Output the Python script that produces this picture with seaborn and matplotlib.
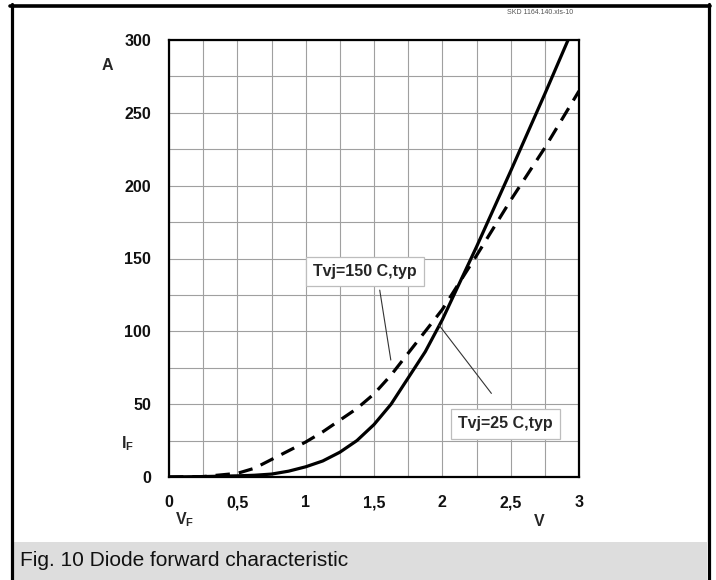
import matplotlib
matplotlib.use("Agg")
import matplotlib.pyplot as plt
import seaborn as sns
import pandas as pd
from matplotlib.lines import Line2D
from matplotlib.patches import Rectangle

# values
volts_25 = [0, 0.25, 0.5, 0.625, 0.75, 0.875, 1.0, 1.125, 1.25, 1.375, 1.5, 1.625,
            1.75, 1.875, 2.0, 2.25, 2.5, 2.75, 2.92]
amps_25 = [0, 0.3, 0.8, 1.2, 2, 4, 7, 11, 17, 25, 36, 50,
           68, 86, 108, 158, 210, 263, 300]
volts_150 = [0, 0.25, 0.5, 0.625, 0.75, 0.875, 1.0, 1.125, 1.25, 1.375, 1.5, 1.625,
             1.75, 1.875, 2.0, 2.25, 2.5, 2.75, 3.0]
amps_150 = [0, 0.3, 2.5, 6, 12, 18, 24, 31, 39, 47, 57, 70,
            85, 100, 115, 152, 190, 226, 265]

x_ticks = [0, 0.5, 1, 1.5, 2, 2.5, 3]
x_tick_labels = ["0", "0,5", "1", "1,5", "2", "2,5", "3"]
y_ticks = [0, 50, 100, 150, 200, 250, 300]

df25 = pd.DataFrame({"V": volts_25, "I": amps_25})
df150 = pd.DataFrame({"V": volts_150, "I": amps_150})

sns.set_style("white")
plt.rcParams["font.family"] = ["Liberation Sans", "DejaVu Sans"]
plt.rcParams["mathtext.fontset"] = "custom"
plt.rcParams["mathtext.rm"] = "Liberation Sans"
plt.rcParams["mathtext.bf"] = "Liberation Sans:bold"

W, H = 716, 580
fig = plt.figure(figsize=(W / 100, H / 100), dpi=100)
ax = fig.add_axes([169 / W, 1 - 477 / H, 410 / W, 437 / H])

sns.lineplot(data=df25, x="V", y="I", ax=ax, color="black", lw=2.3, sort=False)
sns.lineplot(data=df150, x="V", y="I", ax=ax, color="black", lw=2.3, sort=False,
             linestyle=(0, (4.5, 2.8)))

ax.set_xlim(0, 3)
ax.set_ylim(0, 300)
ax.set_xticks(x_ticks)
ax.set_xticklabels(x_tick_labels)
ax.set_yticks(y_ticks)
ax.set_xticks([i * 0.25 for i in range(13)], minor=True)
ax.set_yticks([i * 25 for i in range(13)], minor=True)
ax.grid(which="both", color="#a0a0a0", lw=0.8)
ax.set_axisbelow(True)
ax.tick_params(which="both", length=0)
ax.tick_params(axis="x", pad=13)
ax.tick_params(axis="y", pad=13)
for lab in ax.get_xticklabels() + ax.get_yticklabels():
    lab.set_fontweight("bold")
    lab.set_fontsize(11.5)
    lab.set_color("#111111")
for s in ax.spines.values():
    s.set_linewidth(1.6)
    s.set_color("black")
ax.set_xlabel("")
ax.set_ylabel("")

# curve labels with leader lines
box = dict(boxstyle="square,pad=0.45", fc="white", ec="#bdbdbd", lw=0.9)
ax.text(1.433, 141, "Tvj=150 C,typ", ha="center", va="center", fontsize=11.5,
        fontweight="bold", bbox=box)
ax.text(2.463, 36.5, "Tvj=25 C,typ", ha="center", va="center", fontsize=11.5,
        fontweight="bold", bbox=box)
ax.plot([1.542, 1.623], [128.3, 80.3], color="#333333", lw=0.8)
ax.plot([1.976, 2.359], [104.3, 57.4], color="#333333", lw=0.8)

# axis unit labels
fig.text(107 / W, 1 - 65 / H, "A", ha="center", va="center", fontsize=11.5, fontweight="bold")
fig.text(127 / W, 1 - 444 / H, r"$\mathbf{I_F}$", ha="center", va="center", fontsize=11.5)
fig.text(185 / W, 1 - 520 / H, r"$\mathbf{V_F}$", ha="center", va="center", fontsize=11.5)
fig.text(539 / W, 1 - 522 / H, "V", ha="center", va="center", fontsize=11.5, fontweight="bold")
fig.text(573 / W, 1 - 12 / H, "SKD 1164.140.xls-10", ha="right", va="center",
         fontsize=5, color="#555555")

# caption band and frame
fig.patches.append(Rectangle((13 / W, 0), 694 / W, 38 / H, transform=fig.transFigure,
                             facecolor="#dddddd", edgecolor="none", zorder=0))
fig.text(20 / W, 1 - 566 / H, "Fig. 10 Diode forward characteristic", ha="left",
         va="baseline", fontsize=15, color="#111111")
fig.lines.append(Line2D([11.5 / W, 11.5 / W], [0, 1 - 4 / H], transform=fig.transFigure,
                        color="black", lw=2.3))
fig.lines.append(Line2D([708.5 / W, 708.5 / W], [0, 1 - 4 / H], transform=fig.transFigure,
                        color="black", lw=2.3))
fig.lines.append(Line2D([10 / W, 710 / W], [1 - 5.7 / H, 1 - 5.7 / H], transform=fig.transFigure,
                        color="black", lw=2.6))

fig.savefig("out.png", dpi=100)
